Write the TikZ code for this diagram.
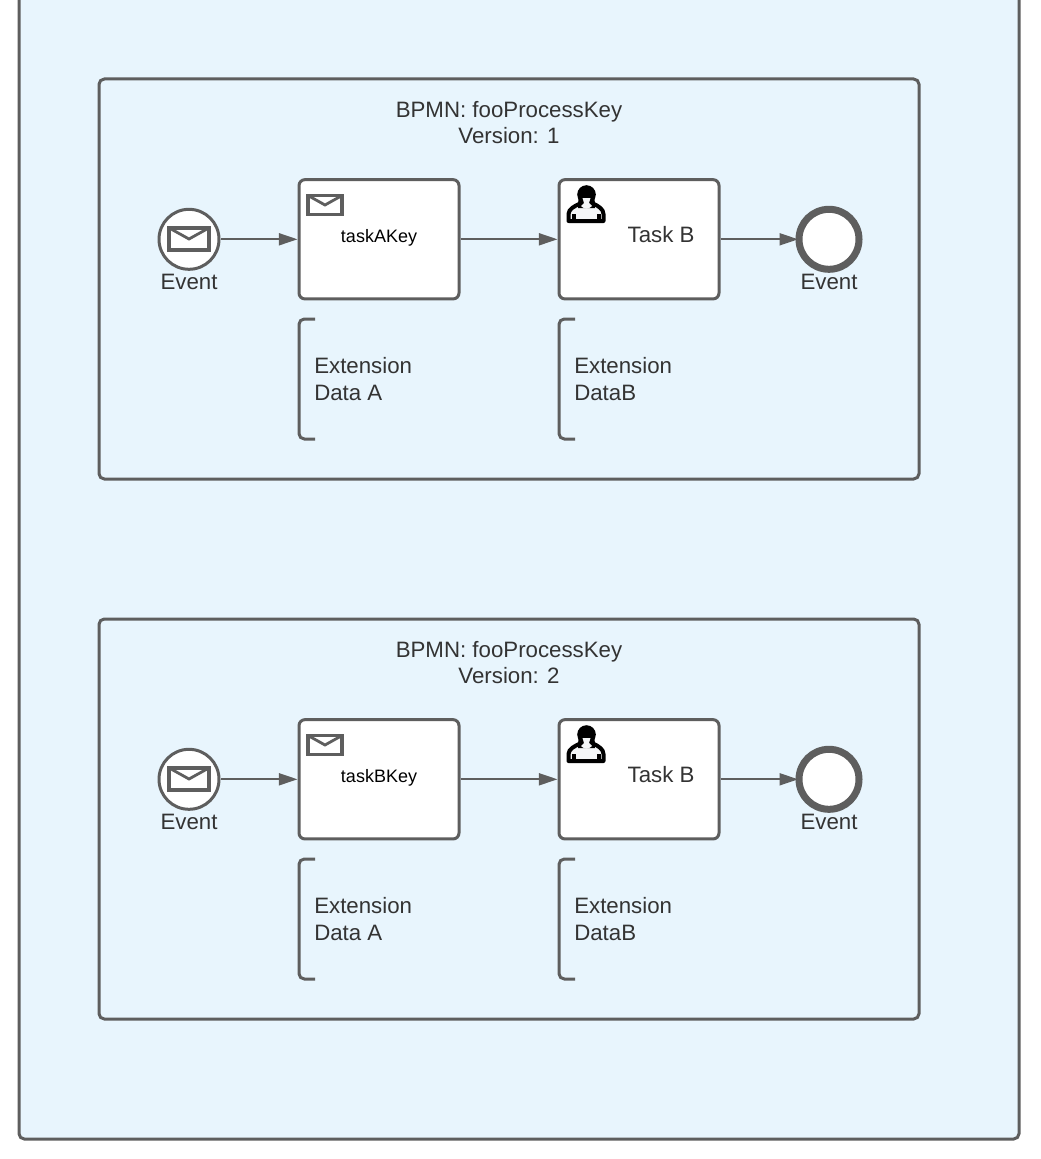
\documentclass[tikz,border=0pt]{standalone}
\usepackage{fontspec}
\setmainfont{Liberation Sans}
\usetikzlibrary{arrows.meta,positioning,calc}
\definecolor{poolblue}{HTML}{E8F5FD}
\definecolor{linegrey}{HTML}{5E5E5E}
\definecolor{textgrey}{HTML}{333333}
\definecolor{iconwhite}{HTML}{F4F6F8}
\tikzset{%
  panel/.style={draw=linegrey, line width=2.25pt, rounded corners=4pt, fill=poolblue},
  pool/.style={draw=linegrey, line width=2.25pt, rounded corners=4pt},
  task/.style={draw=linegrey, fill=white, line width=2.25pt, rounded corners=4.5pt,
    minimum width=120pt, minimum height=89.5pt, inner sep=0pt},
  start event/.style={circle, draw=linegrey, fill=white, line width=2.25pt, minimum size=45pt, inner sep=0pt},
  end event/.style={circle, draw=linegrey, fill=white, line width=5.25pt, minimum size=45pt, inner sep=0pt},
  flow/.style={draw=linegrey, line width=1.5pt, -{Triangle[length=14pt,width=9pt]}},
  bracket/.style={draw=linegrey, line width=2.25pt, rounded corners=4pt},
  label/.style={text=textgrey, font=\fontsize{16.7}{20}\selectfont, inner sep=0pt},
  note/.style={label, align=left, anchor=west, font=\fontsize{16.7}{19.7}\selectfont},
  title/.style={label, align=center, font=\fontsize{16.7}{20}\selectfont},
  small label/.style={text=black, font=\fontsize{13.5}{16}\selectfont, inner sep=0pt},
  pics/envelope/.style args={#1/#2}{code={
    \draw [draw=linegrey, line width=2.6pt, miter limit=2] (-#1,-#2) rectangle (#1,#2);
    \draw [draw=linegrey, line width=2.1pt] (-#1,-#2) -- (0,0) -- (#1,-#2);
  }},
  pics/usericon/.style={code={
    \draw [black, line width=3pt, line join=round, fill=iconwhite]
      (-17.5,16) -- (-17.5,9) .. controls (-17.5,4) and (-11,1) .. (-7,-1)
      -- (8,-1) .. controls (12,1) and (17.5,4) .. (17.5,9) -- (17.5,16) -- cycle;
    \draw [black, line width=2.4pt] (-12,9) -- (-12,16) (13,9) -- (13,16);
    \fill [black] (0.5,-10.5) circle (9.3);
    \fill [black] (-7.5,-10) -- (8.5,-10) -- (9,3) -- (-8,3) -- cycle;
    \fill [iconwhite] (-3.5,-7) -- (4.5,-7) -- (3,-2) -- (6,1) .. controls (3,4.5) and (-2,4.5) .. (-5,1) -- (-2,-2) -- cycle;
  }},
}

\begin{document}
\begin{tikzpicture}[x=0.75pt, y=-0.75pt]
    \useasboundingbox (0,0) rectangle (1041,1159);
    \fill [white] (0,0) rectangle (1041,1159);
    \draw [panel] (19,-20) rectangle (1019,1139);

    \foreach \v/\t/\y in {1/A/0,2/B/540} {
        \begin{scope}[shift={(0,\y)}]
            \draw [pool] (99,79) rectangle (919,479);
            \node [title] (title-\v) at (509,122.7) {BPMN: fooProcessKey\\Version: \v};

            \node [start event] (start-\v) at (189,239.3) {};
            \node [task] (taska-\v) at (379,239.3) {};
            \node [task] (taskb-\v) at (639,239.3) {};
            \node [end event] (end-\v) at (829,239.3) {};

            \pic at (189,239) {envelope=19.8/11};
            \pic at (325,205) {envelope=17/9.5};
            \pic at (586,205) {usericon};

            \node [label] (startlabel-\v) at (189,282) {Event};
            \node [label] (endlabel-\v) at (829,282) {Event};
            \node [small label] (taskalabel-\v) at (379,238) {task\t Key};
            \node [label] (taskblabel-\v) at (661,234.5) {Task B};

            \draw [flow] (start-\v) -- (taska-\v);
            \draw [flow] (taska-\v) -- (taskb-\v);
            \draw [flow, shorten >=-2pt] (taskb-\v) -- (end-\v);

            \draw [bracket] (315,319) -- (299,319) -- (299,439) -- (315,439);
            \draw [bracket] (575,319) -- (559,319) -- (559,439) -- (575,439);
            \node [note] (extensiona-\v) at (314,379) {Extension\\Data A};
            \node [note] (extensionb-\v) at (574,379) {Extension\\DataB};
        \end{scope}
    }
\end{tikzpicture}
\end{document}
